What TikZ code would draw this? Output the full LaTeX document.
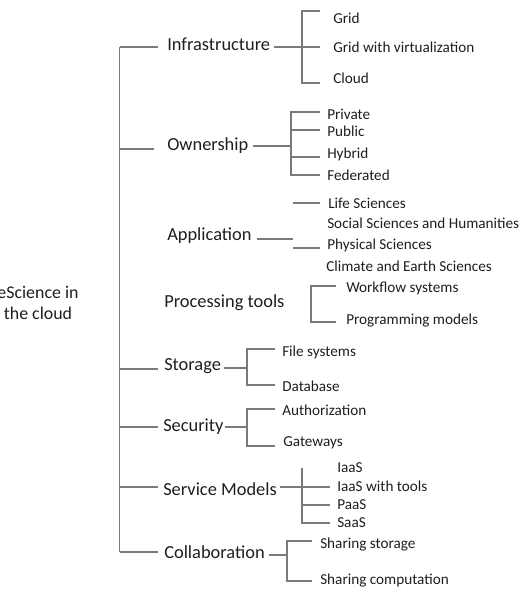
\documentclass[tikz,border=0pt]{standalone}
\usepackage{fontspec}
\setmainfont{Carlito}
\usetikzlibrary{positioning}
\definecolor{linegray}{HTML}{7A7A7A}
\definecolor{textgray}{HTML}{1E1E1E}

\begin{document}
\begin{tikzpicture}[x=0.75pt, y=-0.75pt,
    link/.style={draw=linegray, line width=0.8pt},
    topic/.style={anchor=west, inner sep=0pt, text=textgray, font=\fontsize{13.8}{16}\selectfont},
    leaf/.style={anchor=west, inner sep=0pt, text=textgray, font=\fontsize{11.4}{13}\selectfont}]
    \useasboundingbox (0,0) rectangle (522,593);

    \node[align=center, inner sep=0pt, text=textgray, font=\fontsize{13.4}{15.8}\selectfont] (root) at (38,303) {eScience in\\the cloud};

    % first level
    \node[topic] (infra) at (167,44) {Infrastructure};
    \node[topic] (own) at (167,146) {Ownership};
    \node[topic] (app) at (167,236) {Application};
    \node[topic] (proc) at (164,303) {Processing tools};
    \node[topic] (stor) at (164,366) {Storage};
    \node[topic] (sec) at (163,427) {Security};
    \node[topic] (serv) at (163,489) {Service Models};
    \node[topic] (coll) at (164,552) {Collaboration};

    % trunk
    \coordinate (j1) at (119.5,47);
    \coordinate (j2) at (119.5,149);
    \coordinate (j3) at (119.5,369);
    \coordinate (j4) at (119.5,427);
    \coordinate (j5) at (119.5,487);
    \coordinate (j6) at (119.5,552);
    \draw[link] (j1) -- (j6);
    \foreach \j/\l in {j1/38, j2/34, j3/38, j4/38, j5/38, j6/38}
        \draw[link] (\j) -- ++(\l,0);

    % second level
    \node[leaf] (grid) at (333,18) {Grid};
    \node[leaf] (gridv) at (333,47) {Grid with virtualization};
    \node[leaf] (cloud) at (333,78) {Cloud};

    \node[leaf] (priv) at (327,114) {Private};
    \node[leaf] (pub) at (327,131) {Public};
    \node[leaf] (hyb) at (327,154) {Hybrid};
    \node[leaf] (fed) at (327,175) {Federated};

    \node[leaf] (life) at (328,203) {Life Sciences};
    \node[leaf] (soc) at (327,223) {Social Sciences and Humanities};
    \node[leaf] (phys) at (327,245) {Physical Sciences};
    \node[leaf] (clim) at (326,266) {Climate and Earth Sciences};

    \node[leaf] (wf) at (346,288) {Workflow systems};
    \node[leaf] (prog) at (346,321) {Programming models};

    \node[leaf] (fs) at (282,352) {File systems};
    \node[leaf] (db) at (282,386) {Database};

    \node[leaf] (auth) at (282,410) {Authorization};
    \node[leaf] (gate) at (283,443) {Gateways};

    \node[leaf] (iaas) at (337,468) {IaaS};
    \node[leaf] (iaast) at (337,486) {IaaS with tools};
    \node[leaf] (paas) at (337,505) {PaaS};
    \node[leaf] (saas) at (337,523) {SaaS};

    \node[leaf] (shst) at (320,545) {Sharing storage};
    \node[leaf] (shco) at (320,581) {Sharing computation};

    % brackets
    \coordinate (b1) at (302,47);
    \draw[link, shorten <=3pt] (infra.east |- b1) -- (b1) -- (320,47);
    \draw[link] (320,11) -| (302,83) -- (320,83);

    \coordinate (b2) at (291,146);
    \draw[link, shorten <=3pt] (own.east |- b2) -- (b2);
    \draw[link] (320,112) -| (291,175) -- (320,175);
    \draw[link] (291,130) -- (320,130) (291,157) -- (320,157);

    \coordinate (b3) at (293,239);
    \draw[link, shorten <=4pt] (app.east |- b3) -- (b3);
    \draw[link] (293,203) -- (320,203) (293,248) -- (320,248);

    \draw[link] (336,286) -| (311,322) -- (336,322);

    \coordinate (b5) at (247,368);
    \draw[link, shorten <=2pt] (stor.east |- b5) -- (b5);
    \draw[link] (275,349) -| (247,385) -- (275,385);

    \coordinate (b6) at (247,427);
    \draw[link, shorten <=1pt] (sec.east |- b6) -- (b6);
    \draw[link] (275,409) -| (247,446) -- (275,446);

    \coordinate (b7) at (302,487);
    \draw[link, shorten <=2pt] (serv.east |- b7) -- (b7) -- (330,487);
    \draw[link] (302,468) -- (302,523) -- (330,523) (302,505) -- (330,505);

    \coordinate (b8) at (287,555);
    \draw[link, shorten <=3pt] (coll.east |- b8) -- (b8);
    \draw[link] (312,541) -| (287,581) -- (312,581);
\end{tikzpicture}
\end{document}
